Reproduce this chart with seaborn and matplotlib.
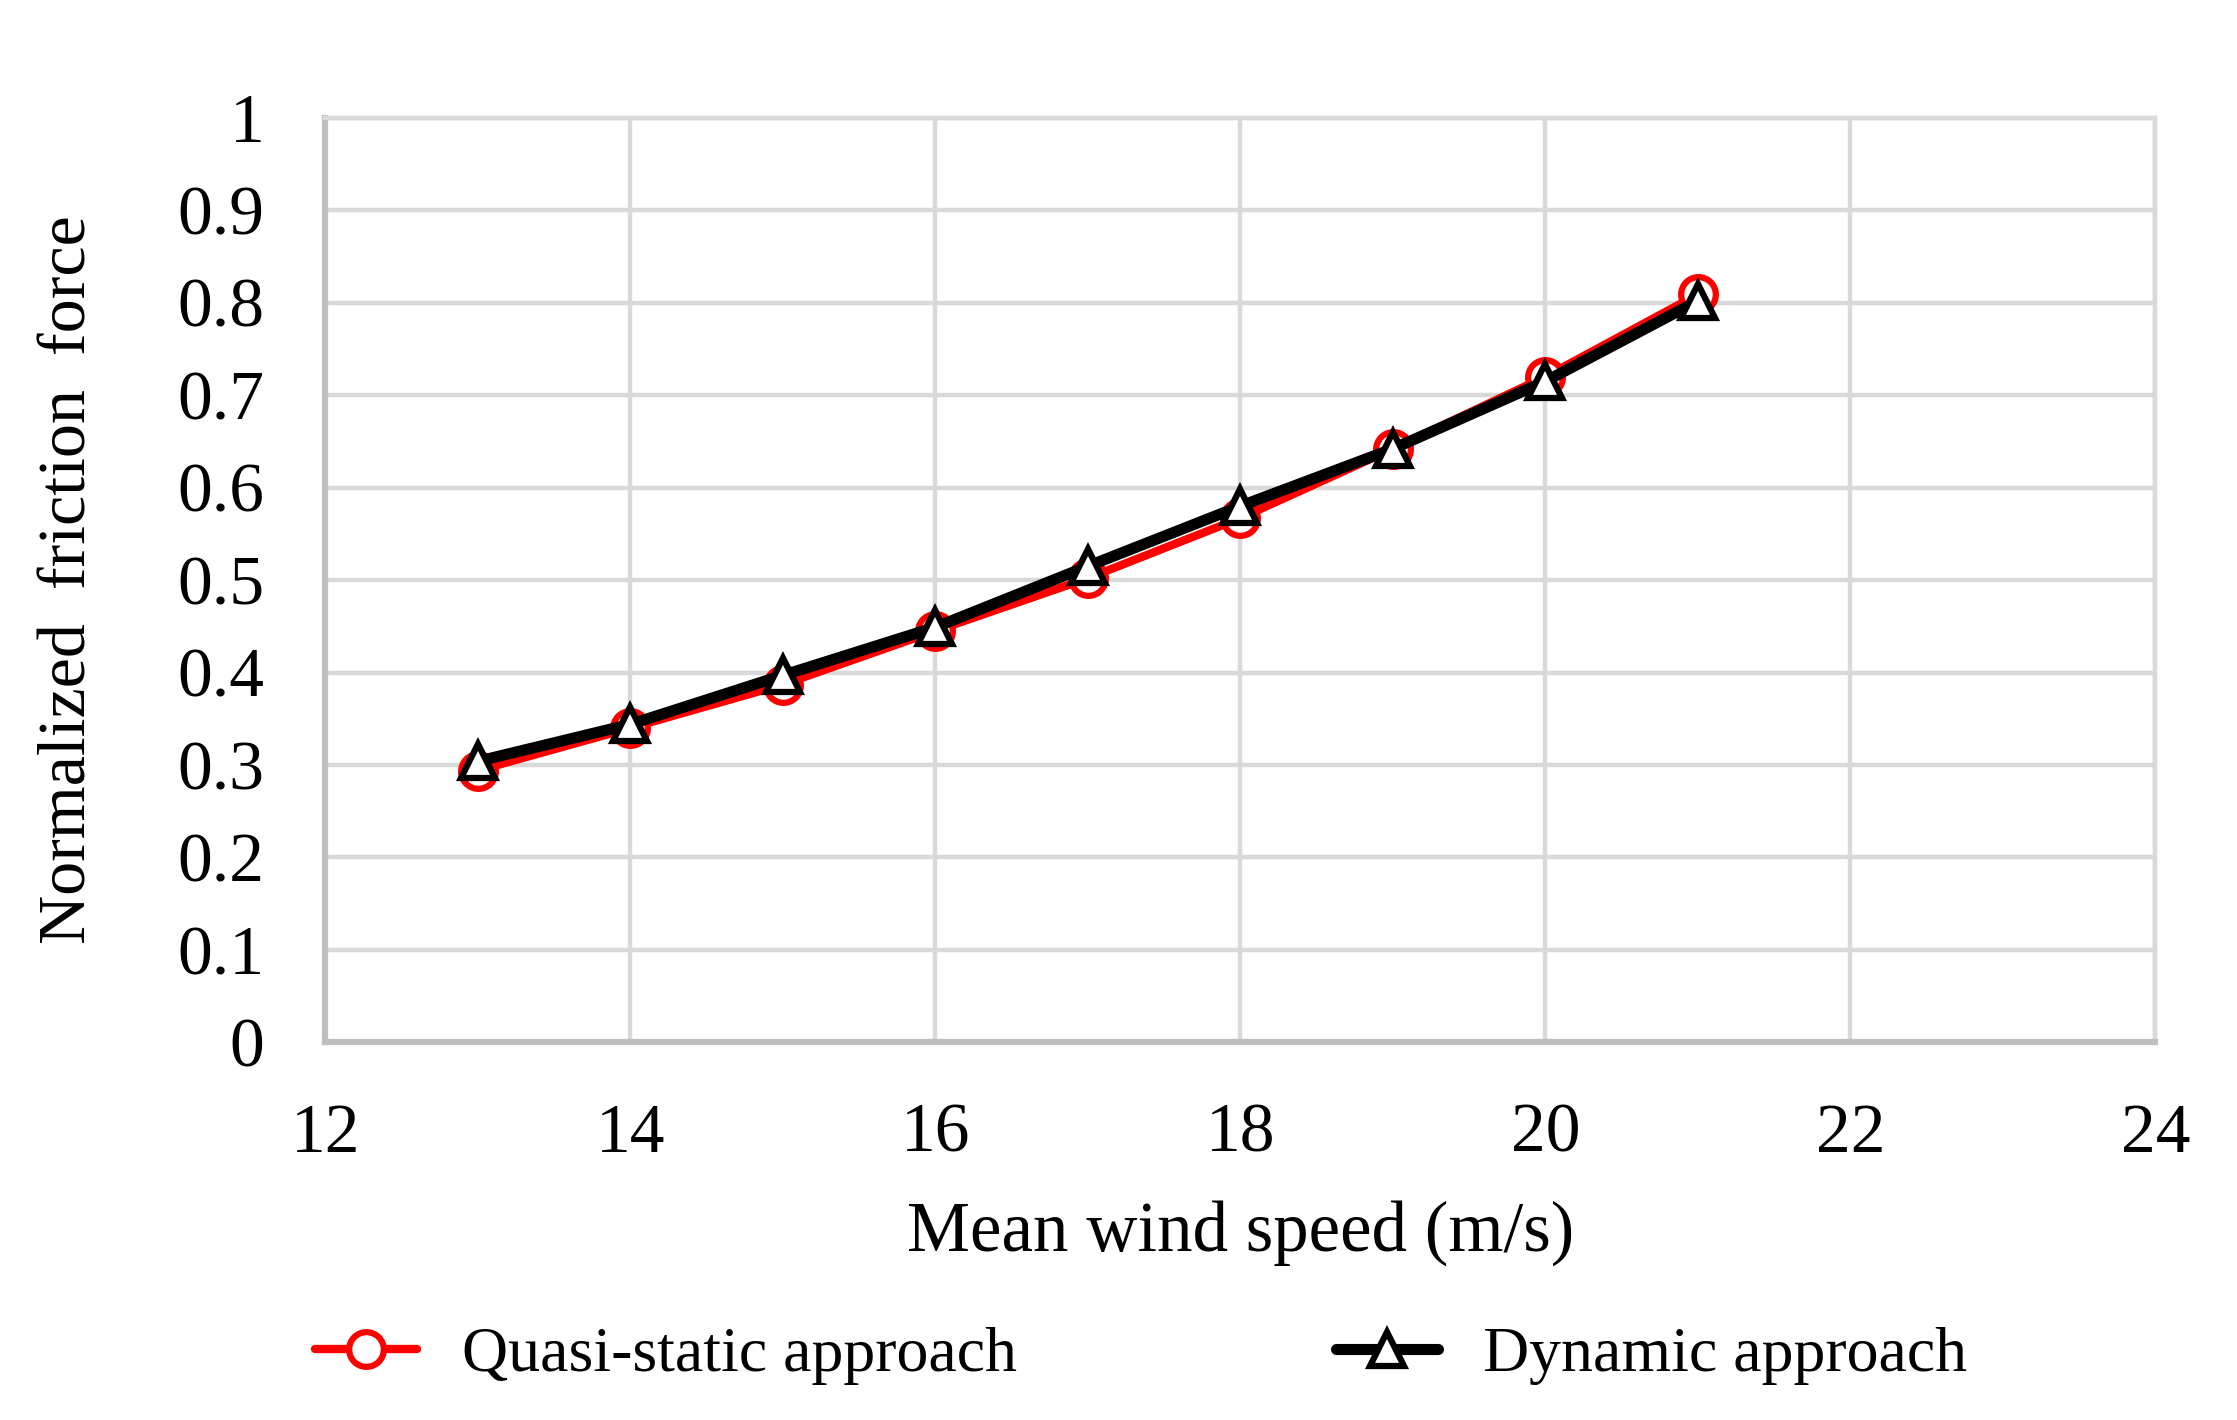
import numpy as np
import pandas as pd
import seaborn as sns
import matplotlib.pyplot as plt

# values
wind_speed = [13, 14, 15, 16, 17, 18, 19, 20, 21]
quasi_static = [0.294, 0.340, 0.387, 0.445, 0.502, 0.567, 0.642, 0.720, 0.809]
dynamic = [0.304, 0.344, 0.397, 0.449, 0.515, 0.580, 0.642, 0.715, 0.802]

x_ticks = [12, 14, 16, 18, 20, 22, 24]
y_ticks = [0, 0.1, 0.2, 0.3, 0.4, 0.5, 0.6, 0.7, 0.8, 0.9, 1]
y_tick_labels = ["0", "0.1", "0.2", "0.3", "0.4", "0.5", "0.6", "0.7", "0.8", "0.9", "1"]

df = pd.DataFrame({"speed": wind_speed, "quasi": quasi_static, "dynamic": dynamic})

sns.set_style("white")
plt.rcParams['font.family'] = ['Liberation Serif', 'DejaVu Serif']
plt.rcParams['text.color'] = 'black'
plt.rcParams['xtick.color'] = 'black'
plt.rcParams['ytick.color'] = 'black'
plt.rcParams['axes.labelcolor'] = 'black'

fig = plt.figure(figsize=(22.37, 14.2), dpi=100)
ax = fig.add_axes([0.1455, 0.266, 0.818, 0.651])

grid_color = "#D9D9D9"
spine_color = "#BFBFBF"

sns.lineplot(data=df, x="speed", y="quasi", ax=ax, color="red", linewidth=6,
             marker="o", markersize=25, markerfacecolor="white",
             markeredgecolor="red", markeredgewidth=4.5,
             label="Quasi-static approach", zorder=3)
sns.lineplot(data=df, x="speed", y="dynamic", ax=ax, color="black", linewidth=8,
             marker="^", markersize=25, markerfacecolor="white",
             markeredgecolor="black", markeredgewidth=4.5,
             label="Dynamic approach", zorder=4)

ax.set_xlim(12, 24)
ax.set_ylim(0, 1)
ax.set_xticks(x_ticks)
ax.set_xticklabels([str(t) for t in x_ticks])
ax.set_yticks(y_ticks)
ax.set_yticklabels(y_tick_labels)
ax.tick_params(axis="both", labelsize=50, length=0)
ax.tick_params(axis="y", pad=44)
ax.tick_params(axis="x", pad=44)

ax.grid(True, color=grid_color, linewidth=3.2, zorder=0)
ax.set_axisbelow(True)
for side in ["top", "right"]:
    ax.spines[side].set_color(grid_color)
    ax.spines[side].set_linewidth(3.2)
for side in ["left", "bottom"]:
    ax.spines[side].set_color(spine_color)
    ax.spines[side].set_linewidth(4.5)

ax.set_xlabel("Mean wind speed (m/s)", fontsize=51, labelpad=24)
ax.set_ylabel("Normalized  friction  force", fontsize=49, labelpad=56)

ax.legend(loc="center", bbox_to_anchor=(0.51, 0.045), bbox_transform=fig.transFigure,
          ncol=2, frameon=False, fontsize=46, handlelength=1.6, handletextpad=0.7,
          columnspacing=5.0)

fig.savefig("out.png", dpi=100)
